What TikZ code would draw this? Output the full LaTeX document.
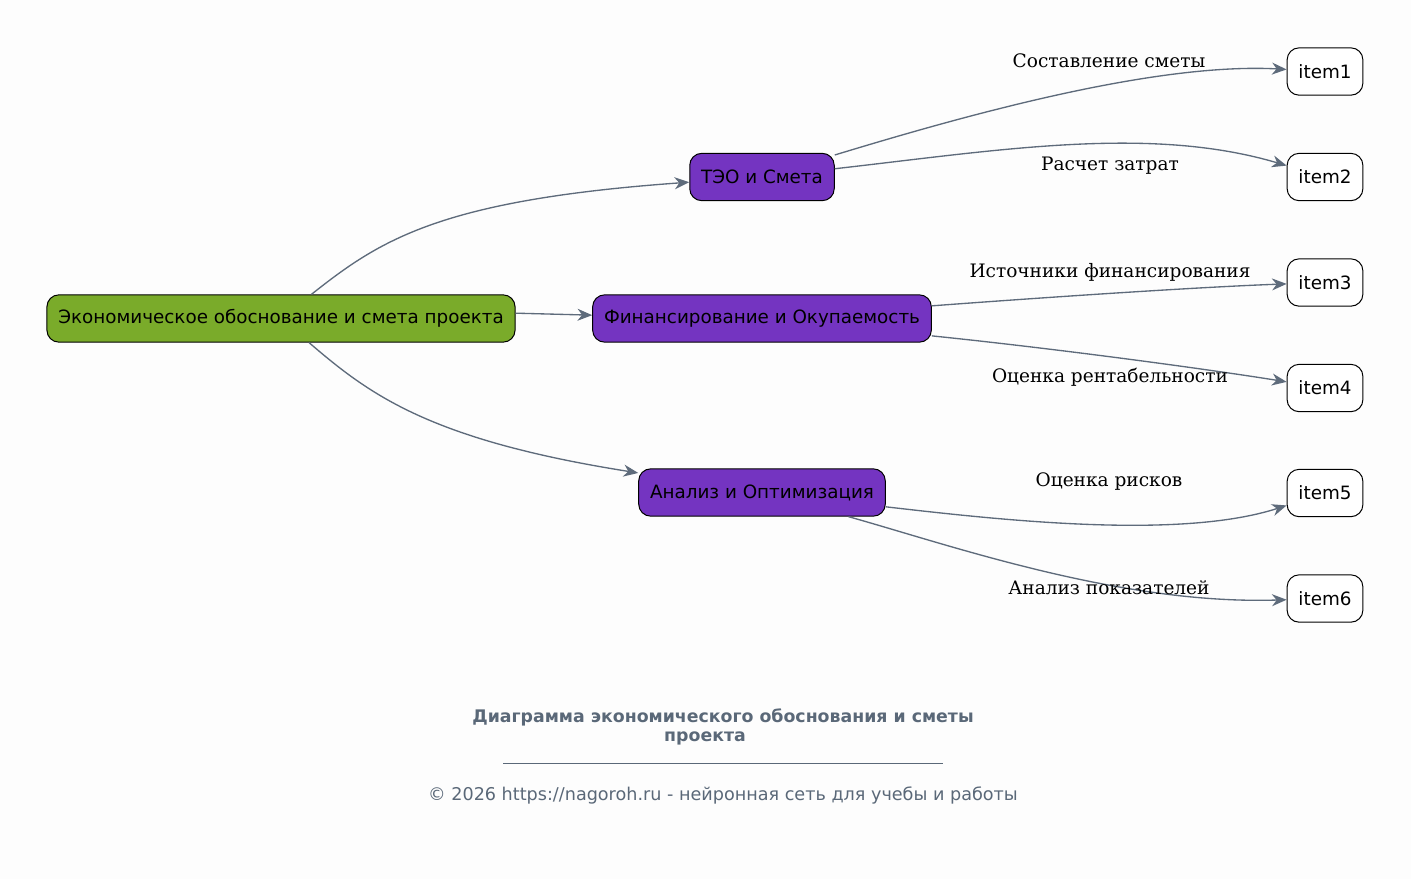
\documentclass[tikz,border=0pt]{standalone}
\usepackage{fontspec}
\setmainfont{DejaVu Serif}
\setsansfont{DejaVu Sans}
\usetikzlibrary{arrows.meta}

\definecolor{rootgreen}{HTML}{7AAB2A}
\definecolor{branchpurple}{HTML}{7434C1}
\definecolor{edgegray}{HTML}{5E6B7B}
\definecolor{titlegray}{HTML}{5A6878}
\definecolor{pagebg}{HTML}{FDFDFD}

\begin{document}
\begin{tikzpicture}[x=0.75pt,y=-0.75pt]
			\tikzstyle{box} = [draw, line width=0.75pt, rounded corners=9pt, minimum height=35.5pt, inner xsep=8.5pt, font=\sffamily\fontsize{13.75}{16}\selectfont]
			\tikzstyle{edge} = [draw=edgegray, line width=1pt, -{Stealth[length=11pt, width=9pt, inset=3.5pt]}]
			\tikzstyle{lbl} = [font=\fontsize{13.9}{16}\selectfont]
			\fill[pagebg] (0,0) rectangle (1411,879);
			\useasboundingbox (0,0) rectangle (1411,879);
			\node[box, fill=rootgreen] (root) at (281, 318.5) {Экономическое обоснование и смета проекта};
			\node[box, fill=branchpurple] (teo) at (762, 177) {ТЭО и Смета};
			\node[box, fill=branchpurple] (fin) at (762, 318.5) {Финансирование и Окупаемость};
			\node[box, fill=branchpurple] (anl) at (762, 492.5) {Анализ и Оптимизация};
			\node[box, fill=white] (item1) at (1325, 71.5) {item1};
			\node[box, fill=white] (item2) at (1325, 177) {item2};
			\node[box, fill=white] (item3) at (1325, 282.5) {item3};
			\node[box, fill=white] (item4) at (1325, 388) {item4};
			\node[box, fill=white] (item5) at (1325, 493) {item5};
			\node[box, fill=white] (item6) at (1325, 598.5) {item6};
			\draw[edge] (root) .. controls (380,240) and (440,200) .. (teo);
			\draw[edge] ([yshift=4pt]root.east) -- ([yshift=2.5pt]fin.west);
			\draw[edge] (root) .. controls (370,395) and (430,440) .. (anl);
			\draw[edge] (teo) .. controls (950,120) and (1150,62) .. (item1);
			\draw[edge] (teo) .. controls (1000,150) and (1150,125) .. (item2);
			\draw[edge] (fin) .. controls (1050,297) and (1200,287) .. (item3);
			\draw[edge] (fin) .. controls (1050,348) and (1200,368) .. (item4);
			\draw[edge] (anl) .. controls (1000,520) and (1180,540) .. (item5);
			\draw[edge] (anl) .. controls (950,545) and (1120,605) .. (item6);
			\node[lbl] (l1) at (1109, 61) {Составление сметы};
			\node[lbl] (l2) at (1110, 166) {Расчет затрат};
			\node[lbl] (l3) at (1110, 272) {Источники финансирования};
			\node[lbl] (l4) at (1110, 377) {Оценка рентабельности};
			\node[lbl] (l5) at (1109, 482) {Оценка рисков};
			\node[lbl] (l6) at (1109, 588) {Анализ показателей};
			% title and footer
			\node[text=titlegray, align=center, font=\sffamily\bfseries\fontsize{13}{14.3}\selectfont] (title) at (723, 727) {Диаграмма экономического обоснования и сметы\\проекта\hspace*{27pt}};
			\draw[titlegray, line width=0.5pt] (503,763) -- (943,763);
			\node[text=titlegray, font=\sffamily\fontsize{13.2}{15}\selectfont] (foot) at (723, 795) {© 2026 https://nagoroh.ru - нейронная сеть для учебы и работы};
\end{tikzpicture}
\end{document}
